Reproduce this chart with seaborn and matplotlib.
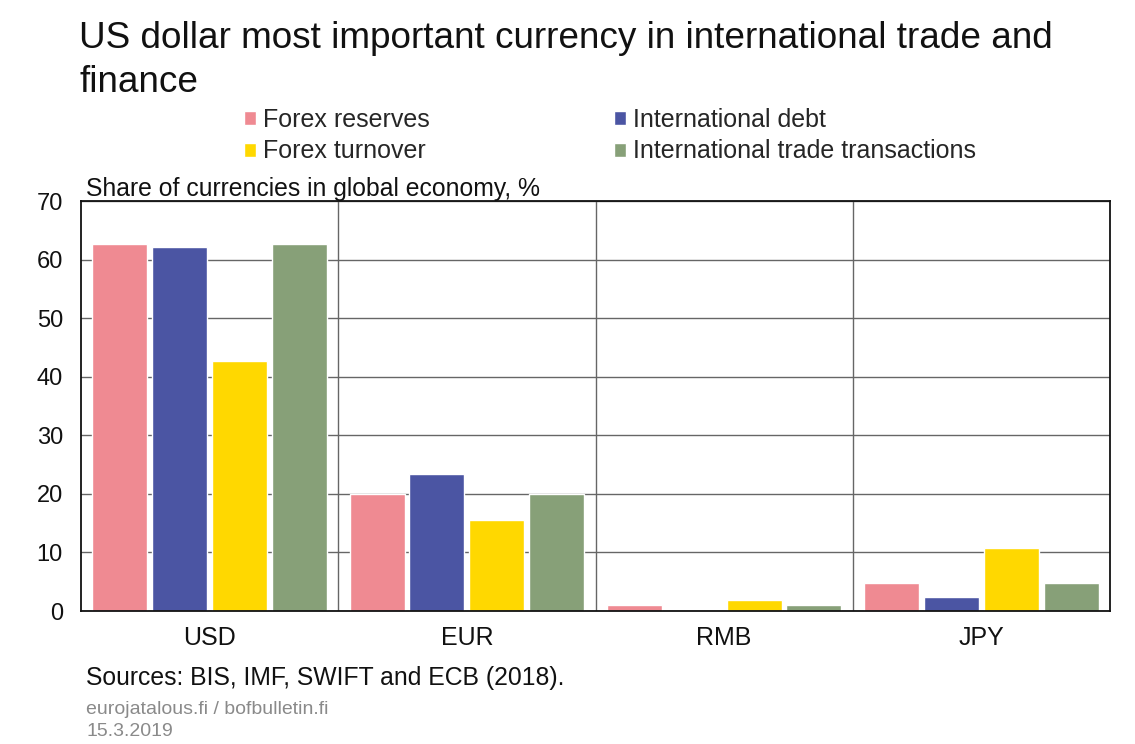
import matplotlib.pyplot as plt
import pandas as pd
import seaborn as sns

currencies = ["USD", "EUR", "RMB", "JPY"]
forex_reserves = [62.7, 20.0, 1.1, 4.8]
international_debt = [62.1, 23.4, 0.0, 2.4]
forex_turnover = [42.6, 15.6, 1.9, 10.8]
trade_transactions = [62.7, 20.0, 1.1, 4.8]

series_names = [
    "Forex reserves",
    "International debt",
    "Forex turnover",
    "International trade transactions",
]
series_colors = ["#EF8A92", "#4B55A3", "#FFD800", "#87A078"]

yticks = [0, 10, 20, 30, 40, 50, 60, 70]


def build_frame() -> pd.DataFrame:
    rows = []
    for name, values in zip(
        series_names,
        [forex_reserves, international_debt, forex_turnover, trade_transactions],
    ):
        for cur, val in zip(currencies, values):
            rows.append({"Currency": cur, "Series": name, "Share": val})
    return pd.DataFrame(rows)


def main() -> None:
    sns.set_theme(style="white")
    plt.rcParams["font.family"] = ["Liberation Sans", "DejaVu Sans"]

    df = build_frame()

    fig = plt.figure(figsize=(11.35, 7.44), dpi=100)
    ax = fig.add_axes([81 / 1135, 133 / 744, 1029 / 1135, 410 / 744])

    sns.barplot(
        data=df,
        x="Currency",
        y="Share",
        hue="Series",
        order=currencies,
        hue_order=series_names,
        palette=series_colors,
        width=0.93,
        gap=0.08,
        saturation=1,
        ax=ax,
    )

    ax.set_xlim(-0.5, len(currencies) - 0.5)
    ax.set_ylim(0, 70)
    ax.set_yticks(yticks)
    ax.set_xticks([0.5, 1.5, 2.5], minor=True)
    ax.set_xlabel("")
    ax.set_ylabel("")
    ax.tick_params(axis="both", which="both", length=0, colors="#111111")
    ax.tick_params(axis="x", which="major", pad=11, labelsize=18)
    ax.tick_params(axis="y", pad=13, labelsize=17)
    ax.grid(axis="y", which="major", color="#666666", linewidth=1.0)
    ax.grid(axis="x", which="minor", color="#666666", linewidth=1.0)
    ax.grid(axis="x", which="major", visible=False)
    ax.set_axisbelow(True)
    for spine in ax.spines.values():
        spine.set_visible(True)
        spine.set_color("#111111")
        spine.set_linewidth(1.3)

    # legend in two columns, row-wise order like the original
    handles, labels = ax.get_legend_handles_labels()
    ax.get_legend().remove()
    order = [0, 2, 1, 3]
    fig.legend(
        [handles[i] for i in order],
        [labels[i] for i in order],
        ncol=2,
        loc="upper left",
        bbox_to_anchor=(234 / 1135, 1 - 98 / 744),
        frameon=False,
        fontsize=18,
        handlelength=0.48,
        handleheight=0.48,
        handletextpad=0.28,
        columnspacing=7.38,
        labelspacing=0.3,
        borderaxespad=0,
    )

    fig.text(
        79 / 1135, 1 - 48 / 744,
        "US dollar most important currency in international trade and",
        fontsize=26.6, va="baseline", ha="left", color="#111111",
    )
    fig.text(
        79 / 1135, 1 - 92 / 744,
        "finance",
        fontsize=26.6, va="baseline", ha="left", color="#111111",
    )
    fig.text(
        86 / 1135, 1 - 196 / 744,
        "Share of currencies in global economy, %",
        fontsize=17.8, va="baseline", ha="left", color="#111111",
    )
    fig.text(
        86 / 1135, 1 - 678 / 744,
        "Sources: BIS, IMF, SWIFT and ECB (2018).",
        fontsize=17.8, va="center", ha="left", color="#111111",
    )
    fig.text(
        86 / 1135, 1 - 710 / 744,
        "eurojatalous.fi / bofbulletin.fi",
        fontsize=14, va="center", ha="left", color="#8a8a8a",
    )
    fig.text(
        86 / 1135, 1 - 731 / 744,
        "15.3.2019",
        fontsize=14, va="center", ha="left", color="#8a8a8a",
    )

    fig.savefig("out.png", dpi=100)
    plt.close(fig)


if __name__ == "__main__":
    main()
